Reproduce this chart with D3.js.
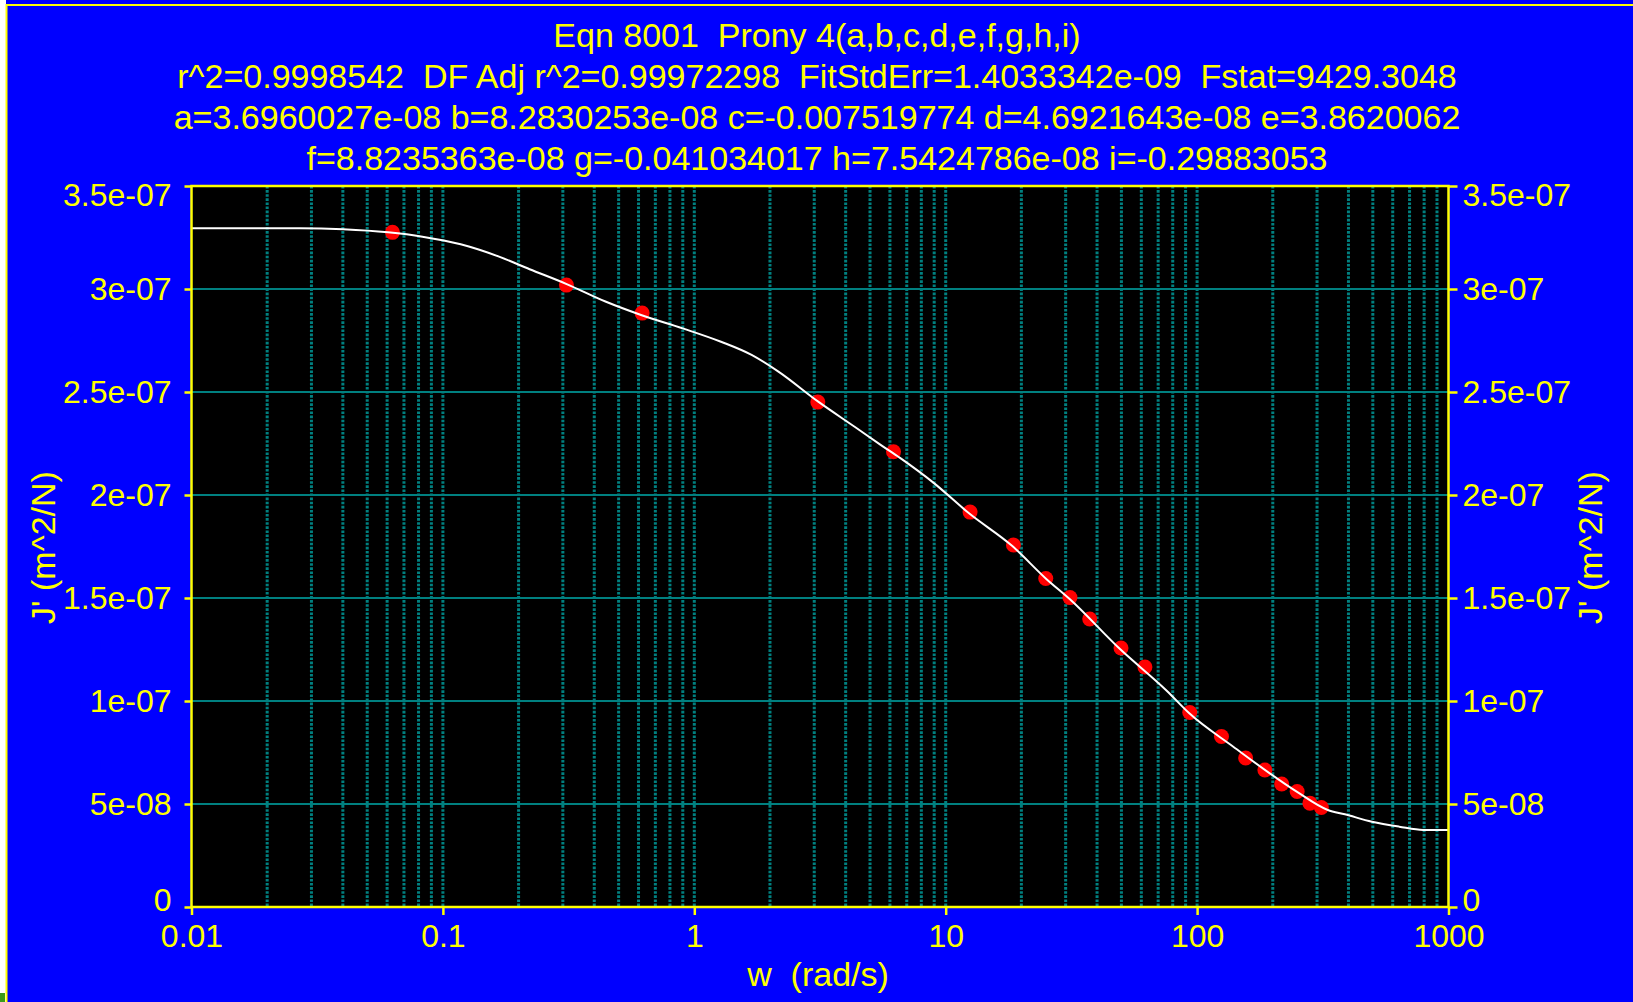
<!DOCTYPE html>
<html>
<head>
<meta charset="utf-8">
<script src="https://cdn.jsdelivr.net/npm/d3@7"></script>
<style>
html, body { margin: 0; padding: 0; background: #fff; overflow: hidden; }
svg { display: block; }
</style>
</head>
<body>
<svg width="1633" height="1002"></svg>
<script>
const titleLines = [
    "Eqn 8001\u00a0 Prony 4(a,b,c,d,e,f,g,h,i)",
    "r^2=0.9998542\u00a0 DF Adj r^2=0.99972298\u00a0 FitStdErr=1.4033342e-09\u00a0 Fstat=9429.3048",
    "a=3.6960027e-08 b=8.2830253e-08 c=-0.007519774 d=4.6921643e-08 e=3.8620062",
    "f=8.8235363e-08 g=-0.041034017 h=7.5424786e-08 i=-0.29883053"
];

// measured points (w in rad/s, J' in m^2/N)
const pointW = [0.063, 0.31, 0.62, 3.1, 6.2, 12.5, 18.6, 25, 31.2, 37.4, 49.8, 62, 93.5, 125, 156, 186, 217, 250, 281, 312];
const pointJ = [3.275e-7, 3.019e-7, 2.883e-7, 2.451e-7, 2.21e-7, 1.917e-7, 1.757e-7, 1.595e-7, 1.502e-7, 1.398e-7,
    1.257e-7, 1.165e-7, 9.44e-8, 8.28e-8, 7.23e-8, 6.65e-8, 5.97e-8, 5.61e-8, 5.04e-8, 4.83e-8];

// fitted curve
const curveW = [0.01, 0.027, 0.0401, 0.0605, 0.0829, 0.1177, 0.1672, 0.2213, 0.3107, 0.4455, 0.614, 0.899, 1.277, 1.69,
    2.161, 3.111, 4.357, 5.565, 6.58, 8.93, 12.38, 18.41, 25.06, 31.2, 49.35, 75.7, 93.1, 139.3, 249, 331, 387, 496, 637, 792, 1000];
const curveJ = [3.295e-7, 3.295e-7, 3.29e-7, 3.275e-7, 3.254e-7, 3.217e-7, 3.157e-7, 3.096e-7, 3.024e-7, 2.938e-7, 2.874e-7,
    2.809e-7, 2.744e-7, 2.68e-7, 2.599e-7, 2.453e-7, 2.33e-7, 2.24e-7, 2.18e-7, 2.06e-7, 1.911e-7, 1.752e-7, 1.594e-7,
    1.494e-7, 1.252e-7, 1.05e-7, 9.4e-8, 7.78e-8, 5.6e-8, 4.71e-8, 4.5e-8, 4.14e-8, 3.9e-8, 3.74e-8, 3.74e-8];

const xTicks = [0.01, 0.1, 1, 10, 100, 1000];
const xTickLabels = ["0.01", "0.1", "1", "10", "100", "1000"];
const yTicks = [0, 5e-8, 1e-7, 1.5e-7, 2e-7, 2.5e-7, 3e-7, 3.5e-7];
const yTickLabels = ["0", "5e-08", "1e-07", "1.5e-07", "2e-07", "2.5e-07", "3e-07", "3.5e-07"];

const svg = d3.select("svg");
const width = +svg.attr("width");
const height = +svg.attr("height");

const yellow = "#ffff00";
const teal = "#008080";
const fontFamily = "Liberation Sans, Arial, sans-serif";

// page background + frame
svg.append("rect").attr("width", width).attr("height", height).attr("fill", "#0000ff");
svg.append("rect").attr("width", 6).attr("height", height).attr("fill", "#fff");
svg.append("rect").attr("y", height - 9).attr("width", 5).attr("height", 9).attr("fill", "#3a9a1a");
svg.append("path")
    .attr("d", "M6.5," + height + "V5H" + width)
    .attr("fill", "none").attr("stroke", yellow).attr("stroke-width", 2);

const margin = {top: 186, right: 184.5, bottom: 95, left: 191.5};
const innerWidth = width - margin.left - margin.right;
const innerHeight = height - margin.top - margin.bottom;

const xScale = d3.scaleLog()
    .domain([0.01, 1000])
    .range([margin.left, margin.left + innerWidth]);

const yScale = d3.scaleLinear()
    .domain([0, 3.5e-7])
    .range([margin.top + innerHeight, margin.top]);

// titles
svg.append("g")
    .attr("font-family", fontFamily)
    .attr("font-size", 34)
    .attr("fill", yellow)
    .attr("text-anchor", "middle")
    .selectAll("text")
    .data(titleLines)
    .enter().append("text")
    .attr("x", 817)
    .attr("y", (d, i) => 47 + i * 41)
    .text(d => d);

// plot area
svg.append("rect")
    .attr("x", margin.left).attr("y", margin.top)
    .attr("width", innerWidth).attr("height", innerHeight)
    .attr("fill", "#000");

const grid = svg.append("g");

grid.selectAll(".vgrid")
    .data(xScale.ticks().filter(d => d > 0.01 && d < 1000))
    .enter().append("line")
    .attr("x1", d => xScale(d)).attr("x2", d => xScale(d))
    .attr("y1", margin.top).attr("y2", margin.top + innerHeight)
    .attr("stroke", teal)
    .attr("stroke-width", 3)
    .attr("stroke-dasharray", "2.6,1.5");

grid.selectAll(".hgrid")
    .data(yTicks.filter(d => d > 0 && d < 3.5e-7))
    .enter().append("line")
    .attr("x1", margin.left).attr("x2", margin.left + innerWidth)
    .attr("y1", d => yScale(d)).attr("y2", d => yScale(d))
    .attr("stroke", teal)
    .attr("stroke-width", 2);

// data points
svg.append("g").selectAll("circle")
    .data(pointW.map((w, i) => ({w: w, j: pointJ[i]})))
    .enter().append("circle")
    .attr("cx", d => xScale(d.w))
    .attr("cy", d => yScale(d.j))
    .attr("r", 7.5)
    .attr("fill", "#ff0000");

// fitted curve
const line = d3.line()
    .x(d => xScale(d.w))
    .y(d => yScale(d.j))
    .curve(d3.curveMonotoneX);

svg.append("path")
    .datum(curveW.map((w, i) => ({w: w, j: curveJ[i]})))
    .attr("d", line)
    .attr("fill", "none")
    .attr("stroke", "#fff")
    .attr("stroke-width", 2);

// plot border
svg.append("rect")
    .attr("x", margin.left).attr("y", margin.top)
    .attr("width", innerWidth).attr("height", innerHeight)
    .attr("fill", "none")
    .attr("stroke", yellow)
    .attr("stroke-width", 2.5);

const styleAxis = (g) => {
    g.attr("font-size", 32).attr("font-family", fontFamily);
    g.select(".domain").remove();
    g.selectAll(".tick line").attr("stroke", yellow).attr("stroke-width", 2.5);
    g.selectAll(".tick text").attr("fill", yellow);
};

// keep the end labels inside the plot's height
const clampLabel = (d) => {
    const y = yScale(d);
    const c = Math.max(margin.top + 9, Math.min(margin.top + innerHeight - 7, y));
    return c - y;
};

const xAxis = d3.axisBottom(xScale)
    .tickValues(xTicks)
    .tickFormat((d, i) => xTickLabels[i])
    .tickSize(8)
    .tickSizeOuter(0)
    .tickPadding(9);

svg.append("g")
    .attr("transform", "translate(0," + (margin.top + innerHeight) + ")")
    .call(xAxis)
    .call(styleAxis);

const yAxisLeft = d3.axisLeft(yScale)
    .tickValues(yTicks)
    .tickFormat((d, i) => yTickLabels[i])
    .tickSize(7)
    .tickSizeOuter(0)
    .tickPadding(13);

svg.append("g")
    .attr("transform", "translate(" + margin.left + ",0)")
    .call(yAxisLeft)
    .call(styleAxis)
    .selectAll(".tick text").attr("y", d => clampLabel(d));

const yAxisRight = d3.axisRight(yScale)
    .tickValues(yTicks)
    .tickFormat((d, i) => yTickLabels[i])
    .tickSize(9)
    .tickSizeOuter(0)
    .tickPadding(5);

svg.append("g")
    .attr("transform", "translate(" + (margin.left + innerWidth) + ",0)")
    .call(yAxisRight)
    .call(styleAxis)
    .selectAll(".tick text").attr("y", d => clampLabel(d));

// axis titles
const axisTitles = svg.append("g")
    .attr("font-family", fontFamily)
    .attr("font-size", 34)
    .attr("fill", yellow)
    .attr("text-anchor", "middle");

axisTitles.append("text")
    .attr("x", margin.left + innerWidth / 2 - 2)
    .attr("y", 986)
    .text("w\u00a0 (rad/s)");

axisTitles.append("text")
    .attr("transform", "translate(55,547.5) rotate(-90)")
    .text("J' (m^2/N)");

axisTitles.append("text")
    .attr("transform", "translate(1602,547.5) rotate(-90)")
    .text("J' (m^2/N)");
</script>
</body>
</html>
